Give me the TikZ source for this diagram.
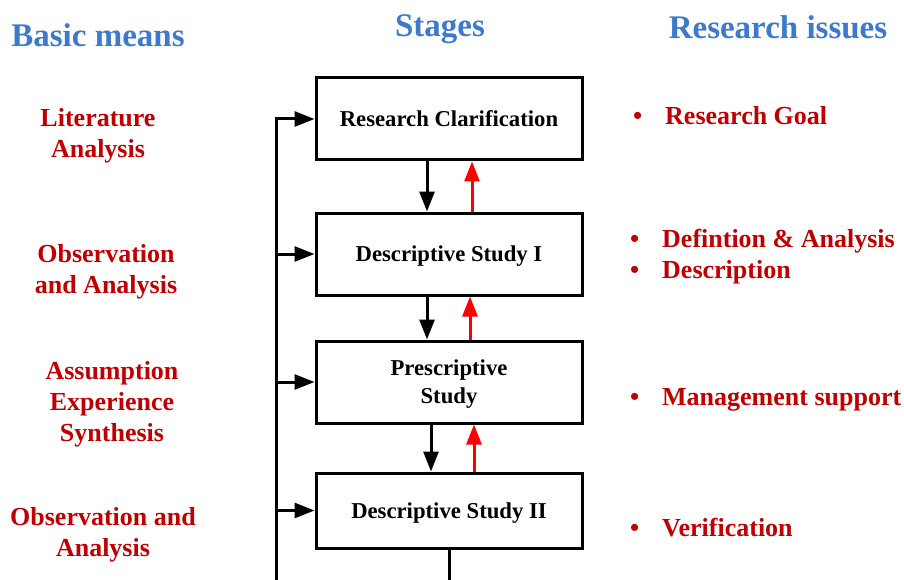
\documentclass[tikz,border=0pt]{standalone}
\usepackage{fontspec}
\setmainfont{Liberation Serif}
\usetikzlibrary{arrows.meta}
\definecolor{ttl}{RGB}{62,122,204}
\definecolor{dred}{RGB}{192,0,0}
\tikzset{
  stagebox/.style={draw, line width=3pt, minimum width=266pt, font=\fontsize{22.7}{28}\selectfont\bfseries, align=center, inner sep=0pt},
  title/.style={text=ttl, font=\fontsize{33}{38}\selectfont\bfseries},
  means/.style={text=dred, font=\fontsize{26}{31}\selectfont\bfseries, align=center},
  issue/.style={text=dred, font=\fontsize{26}{31}\selectfont\bfseries, anchor=west, align=left, inner sep=0pt},
  conn/.style={line width=3pt},
  arr/.style={line width=3pt, -{Triangle[length=20pt,width=15pt]}},
  rarr/.style={arr, red}
}
\begin{document}
\begin{tikzpicture}[x=1pt,y=-1pt]
\useasboundingbox (0,0) rectangle (904,580);
% titles
\node[title] (t1) at (98,35) {Basic means};
\node[title] (t2) at (440,29) {Stages};
\node[title] (t3) at (778,27) {Research issues};
% stage boxes
\node[stagebox, minimum height=82pt] (b1) at (449,119) {Research Clarification};
\node[stagebox, minimum height=82pt, text depth=0pt] (b2) at (449,254) {Descriptive Study I};
\node[stagebox, minimum height=82pt, text depth=0pt] (b3) at (449,382) {Prescriptive\\Study};
\node[stagebox, minimum height=75pt, text depth=0pt] (b4) at (449,510.5) {Descriptive Study II};
% basic means
\node[means] (m1) at (98,136) {Literature\\Analysis};
\node[means] (m2) at (106,272) {Observation\\and Analysis};
\node[means] (m3) at (112,404) {Assumption\\Experience\\Synthesis};
\node[means] (m4) at (103,535) {Observation and\\Analysis};
% research issues
\node[issue] (i1) at (633,116) {\makebox[32pt][l]{•}Research Goal};
\node[issue] (i2) at (630,256.5) {\makebox[32pt][l]{•}Defintion \& Analysis\\\makebox[32pt][l]{•}Description};
\node[issue] (i3) at (630,400) {\makebox[32pt][l]{•}Management support};
\node[issue] (i4) at (630,528) {\makebox[32pt][l]{•}Verification};
% left feedback line
\coordinate (lt) at (276,119);
\coordinate (lb) at (276,580);
\coordinate (bb) at (449,580);
\draw[conn] (lb) -- (lt);
\draw[arr] ([xshift=-1.5pt]lt) -- (b1.west);
\draw[arr] (b2.west -| lt) -- (b2.west);
\draw[arr] (b3.west -| lt) -- (b3.west);
\draw[arr] (b4.west -| lt) -- (b4.west);
% down / up arrows
\draw[arr] ([xshift=-22pt]b1.south) -- ([xshift=-22pt]b2.north);
\draw[rarr] ([xshift=23pt]b2.north) -- ([xshift=23pt]b1.south);
\draw[arr] ([xshift=-22pt]b2.south) -- ([xshift=-22pt]b3.north);
\draw[rarr] ([xshift=21pt]b3.north) -- ([xshift=21pt]b2.south);
\draw[arr] ([xshift=-18pt]b3.south) -- ([xshift=-18pt]b4.north);
\draw[rarr] ([xshift=25pt]b4.north) -- ([xshift=25pt]b3.south);
% bottom line
\draw[conn] (b4.south -| bb) -- (bb);
\end{tikzpicture}
\end{document}
